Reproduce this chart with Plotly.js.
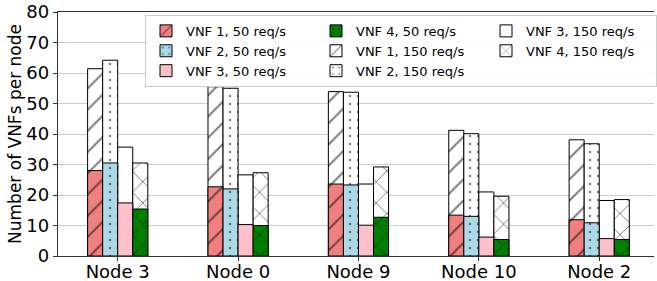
<!DOCTYPE html>
<html>
<head>
<meta charset="utf-8">
<script src="https://cdn.plot.ly/plotly-3.0.1.min.js"></script>
<style>html,body{margin:0;padding:0;background:#fff;}#chart{width:657px;height:281px;}</style>
</head>
<body>
<div id="chart"></div>
<script>
var nodes = ['Node 3', 'Node 0', 'Node 9', 'Node 10', 'Node 2'];
var vnf1_50 = [28.0, 22.7, 23.6, 13.4, 11.9];
var vnf2_50 = [30.5, 22.0, 23.3, 13.0, 10.9];
var vnf3_50 = [17.4, 10.3, 10.1, 6.2, 5.7];
var vnf4_50 = [15.4, 10.0, 12.7, 5.4, 5.4];
var vnf1_150 = [61.4, 55.5, 53.9, 41.2, 38.1];
var vnf2_150 = [64.2, 55.0, 53.7, 40.1, 36.8];
var vnf3_150 = [35.7, 26.6, 23.6, 21.0, 18.2];
var vnf4_150 = [30.5, 27.3, 29.2, 19.6, 18.5];

var shapes = ['/', '.', '', 'x'];
var sizes = [15, 8, 8, 15];
var solid = [0.14, 0.08, 0.1, 0.12];
var colors50 = ['#F08080', '#ADD8E6', '#FFC0CB', '#008000'];
var data50 = [vnf1_50, vnf2_50, vnf3_50, vnf4_50];
var data150 = [vnf1_150, vnf2_150, vnf3_150, vnf4_150];
var ranks50 = [1, 4, 7, 2];
var ranks150 = [5, 8, 3, 6];

function mk(i, y, fill, name, rank) {
  return {
    type: 'bar', x: nodes, y: y, name: name,
    offsetgroup: 'g' + i, legendrank: rank,
    marker: {
      color: fill,
      line: {color: '#000', width: 1},
      pattern: {shape: shapes[i], size: sizes[i], solidity: solid[i], fgcolor: '#000', bgcolor: fill, fillmode: 'overlay'}
    },
    hoverinfo: 'x+y+name'
  };
}
var traces = [];
for (var i = 0; i < 4; i++) traces.push(mk(i, data150[i], '#ffffff', 'VNF ' + (i + 1) + ', 150 req/s', ranks150[i]));
for (var j = 0; j < 4; j++) traces.push(mk(j, data50[j], colors50[j], 'VNF ' + (j + 1) + ', 50 req/s', ranks50[j]));

var layout = {
  width: 657, height: 281,
  margin: {l: 58, r: 0, t: 12, b: 25},
  paper_bgcolor: '#fff', plot_bgcolor: '#fff',
  font: {family: 'DejaVu Sans', size: 18, color: '#000'},
  barmode: 'group', bargap: 0.5, bargroupgap: 0,
  showlegend: true,
  xaxis: {
    type: 'category', range: [-0.496, 4.455],
    showline: true, linecolor: '#333', linewidth: 1.2, mirror: true,
    ticks: 'outside', ticklen: 4, tickcolor: '#333',
    showgrid: false, tickfont: {size: 18}, ticklabelstandoff: -5
  },
  yaxis: {
    range: [0, 80], dtick: 10,
    showline: true, linecolor: '#333', linewidth: 1.2,
    ticks: 'outside', ticklen: 4, tickcolor: '#333',
    showgrid: true, gridcolor: '#cccccc', gridwidth: 1,
    zeroline: false, tickfont: {size: 18},
    title: {text: 'Number of VNFs per node', font: {size: 17}, standoff: 0}
  },
  legend: {
    orientation: 'h', x: 0.146, xanchor: 'left', y: 0.988, yanchor: 'top',
    bgcolor: 'rgba(255,255,255,0.85)', bordercolor: '#cccccc', borderwidth: 1,
    font: {size: 13}, entrywidth: 125, entrywidthmode: 'pixels',
    traceorder: 'normal'
  }
};
Plotly.newPlot('chart', traces, layout, {displayModeBar: false, staticPlot: true});
</script>
</body>
</html>
